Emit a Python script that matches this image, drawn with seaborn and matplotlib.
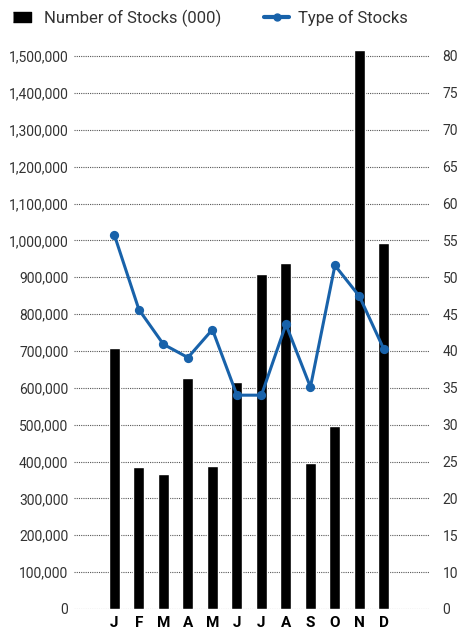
import matplotlib
matplotlib.use("Agg")
import matplotlib.pyplot as plt
from matplotlib.lines import Line2D
from matplotlib.ticker import FuncFormatter, FixedLocator, FixedFormatter
import seaborn as sns
import pandas as pd
import numpy as np

months = ["Jan", "Feb", "Mar", "Apr", "May", "Jun", "Jul", "Aug", "Sep", "Oct", "Nov", "Dec"]
month_labels = ["J", "F", "M", "A", "M", "J", "J", "A", "S", "O", "N", "D"]
num_stocks = [708000, 385000, 366000, 626000, 388000, 615000, 909000, 938000, 396000, 496000, 1516000, 993000]
type_stocks = [55.7, 45.6, 40.9, 39.1, 42.9, 34.0, 34.0, 43.6, 35.1, 51.6, 47.4, 40.2]
left_ticks = list(range(0, 1500001, 100000))
right_ticks = [5, 10, 15, 20, 25, 30, 35, 40, 45, 50, 55, 60, 65, 70, 75, 80]
right_tick_labels = ["0", "10", "15", "20", "25", "30", "35", "40", "45", "50", "55", "60", "65", "70", "75", "80"]

sns.set_theme(style="white")
plt.rcParams["font.family"] = ["Roboto", "DejaVu Sans"]

df = pd.DataFrame({"month": months, "num": num_stocks, "types": type_stocks})

fig = plt.figure(figsize=(4.58, 6.4), dpi=100)
ax = fig.add_axes([74 / 458, 1 - 609 / 640, (430 - 74) / 458, (609 - 45) / 640])

sns.barplot(data=df, x="month", y="num", order=months, color="black", saturation=1,
            width=0.45, ax=ax, zorder=3)

ax2 = ax.twinx()
sns.pointplot(data=df, x="month", y="types", order=months, color="#1862AA", markers="o",
              errorbar=None, ax=ax2, markersize=5, linewidth=2.2, zorder=4)

ax.set_ylim(0, 1530000)
ax.yaxis.set_major_locator(FixedLocator(left_ticks))
ax.yaxis.set_major_formatter(FuncFormatter(lambda v, p: f"{int(v):,}"))
ax2.set_ylim(5, 81.49)
ax2.yaxis.set_major_locator(FixedLocator(right_ticks))
ax2.yaxis.set_major_formatter(FixedFormatter(right_tick_labels))

for a in (ax, ax2):
    for s in a.spines.values():
        s.set_visible(False)
    a.set_xlabel("")
    a.set_ylabel("")
    a.grid(False)

ax.set_xlim(-1.65, 12.88)
ax.xaxis.set_major_locator(FixedLocator(list(range(len(months)))))
ax.xaxis.set_major_formatter(FixedFormatter(month_labels))
ax.tick_params(axis="x", length=0, pad=5, labelsize=11, labelcolor="black", labelbottom=True)
for lab in ax.get_xticklabels():
    lab.set_fontweight("bold")
ax2.tick_params(axis="x", labelbottom=False, bottom=False)

for t in left_ticks:
    ax.axhline(t, color="#555555", linestyle=(0, (1, 1)), linewidth=0.8, zorder=1)

ax.tick_params(axis="y", length=0, labelsize=10, labelcolor="#333333", pad=4)
ax2.tick_params(axis="y", length=0, labelsize=10, labelcolor="#333333", pad=9)

rect = [(-1, -0.5), (1, -0.5), (1, 0.5), (-1, 0.5)]
handles = [
    Line2D([0], [0], marker=rect, color="black", linestyle="none", markersize=13),
    Line2D([0], [0], marker="o", color="#1862AA", linewidth=3, markersize=5),
]
fig.legend(handles, ["Number of Stocks (000)", "Type of Stocks"], loc="upper left",
           bbox_to_anchor=(-0.012, 1.008), ncol=2, frameon=False, fontsize=12,
           handlelength=1.5, handletextpad=0.55, columnspacing=2.6,
           labelcolor="#333333")

fig.savefig("out.png", dpi=100)
